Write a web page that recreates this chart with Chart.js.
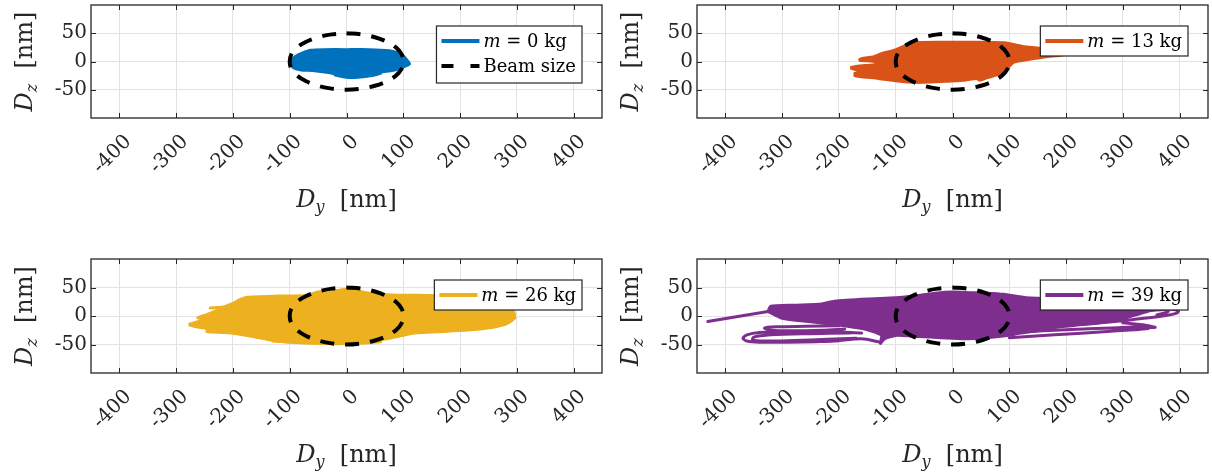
<!DOCTYPE html>
<html>
<head>
<meta charset="utf-8">
<script src="https://cdn.jsdelivr.net/npm/chart.js@4.4.0/dist/chart.umd.min.js"></script>
<style>
  html, body { margin: 0; padding: 0; background: #fff; }
  #wrap { position: relative; width: 1212px; height: 475px; }
  canvas { position: absolute; }
</style>
</head>
<body>
<div id="wrap">
  <canvas id="c0" width="606" height="237" style="left:0;top:0"></canvas>
  <canvas id="c1" width="606" height="237" style="left:606px;top:0"></canvas>
  <canvas id="c2" width="606" height="238" style="left:0;top:237px"></canvas>
  <canvas id="c3" width="606" height="238" style="left:606px;top:237px"></canvas>
</div>
<script>
const X_TICKS = [-400, -300, -200, -100, 0, 100, 200, 300, 400];
const Y_TICKS = [-50, 0, 50];
const MASSES = ['0', '13', '26', '39'];
const COLORS = ['#0072BD', '#D95319', '#EDB120', '#7E2F8E'];
const INK = '#262626';
const SERIF = '"DejaVu Serif"';

// beam size ellipse (nm)
const beamY = [0, 26, 50, 71, 87, 97, 100, 97, 87, 71, 50, 26, 0, -26, -50, -71, -87, -97, -100, -97, -87, -71, -50, -26, 0];
const beamZ = [50, 48, 43, 35, 25, 13, 0, -13, -25, -35, -43, -48, -50, -48, -43, -35, -25, -13, 0, 13, 25, 35, 43, 48, 50];

// m = 0 kg : dense core outline + a few loose strokes
const coreY0 = [-97, -90, -78, -63, -40, 0, 40, 75, 90, 100, 105, 111, 104, 95, 80, 55, 35, 10, -10, -35, -60, -80, -92, -97, -97];
const coreZ0 = [2, 9, 15, 20, 21, 21, 21, 19, 15, 10, 4, -4, -8, -12, -16, -19, -22, -24, -23, -19, -16, -15, -12, -6, 2];
const traceY0 = [-20, 0, 20, 45, 60];
const traceZ0 = [-24, -28, -28, -25, -21];

// m = 13 kg
const coreY1 = [-180, -165, -140, -125, -145, -163, -160, -140, -125, -102, -85, -67, -20, 30, 92, 127, 165, 196, 199, 190, 167, 130, 108, 98, 80, 60, 48, 42, 20, -10, -67, -100, -130, -160, -172, -168, -150, -168, -180];
const coreZ1 = [-11, -8, -6, -2, 1, 2, 5, 8, 14, 20, 27, 33, 34, 34, 33, 26, 22, 17, 14, 11, 9, 3, -1, -10, -23, -29, -33, -30, -33, -35, -37, -34, -30, -27, -25, -20, -17, -15, -11];
const traceY1 = [-172, -140, -100, null, -163, -130, -100];
const traceZ1 = [-21, -20, -22, null, 4, 5, 9];

// m = 26 kg
const coreY2 = [-278, -265, -248, -262, -245, -228, -215, -200, -187, -175, -120, -70, -50, -20, 0, 15, 40, 80, 140, 200, 240, 270, 288, 296, 293, 280, 255, 220, 170, 120, 80, 40, 0, -40, -98, -133, -170, -212, -235, -246, -245, -265, -278];
const coreZ2 = [-15, -11, -6, -3, 3, 10, 16, 22, 29, 33, 35, 36, 42, 44, 47, 45, 40, 37, 36, 35, 33, 28, 18, 3, -6, -14, -20, -24, -27, -30, -38, -44, -46, -47, -46, -42, -35, -29, -28, -27, -22, -19, -15];
const traceY2 = [-130, -60, 20, 60, null, 150, 230, 280, 297, null, -240, -200, -170];
const traceZ2 = [-44, -48, -48, -45, null, -24, -22, -14, -3, null, 14, 17, 19];

// m = 39 kg
const coreY3 = [-325, -320, -280, -230, -208, -150, -100, -60, -30, 0, 30, 60, 90, 130, 200, 280, 330, 360, 370, 350, 330, 300, 260, 220, 180, 150, 120, 100, 60, 20, -20, -60, -100, -120, -127, -125, -150, -200, -250, -300, -325];
const coreZ3 = [8, 17, 19, 21, 26, 30, 32, 36, 40, 42, 41, 40, 38, 32, 30, 28, 26, 22, 15, 10, 4, -4, -12, -16, -20, -26, -30, -34, -38, -40, -38, -36, -34, -40, -48, -34, -24, -16, -10, -4, 8];
const traceY3 = [-431, -325, null,
  -160, -220, -290, -340, -362, -369, -362, -340, -290, -240, -208, -160, -127, null,
  -180, -250, -320, -350, -352, -330, -280, -220, -170, null,
  -200, -260, -310, -331, -320, -280, -230, -190, null,
  130, 200, 260, 320, 370, 395, 398, 385, 350, 300, null,
  120, 200, 280, 330, 357, 340, 300, null,
  200, 280, 340, 375, 380, 360, null,
  100, 180, 260, 320, 345, 330];
const traceZ3 = [-9.5, 8, null,
  -30, -27, -27, -29, -33, -39, -44, -46, -46, -45, -44, -40, -46, null,
  -30, -31, -33, -37, -42, -44, -43, -41, -39, null,
  -17, -18, -19, -21, -25, -26, -25, -23, null,
  -20, -16, -12, -6, 0, 5, 9, 12, 10, 6, null,
  -28, -24, -21, -19, -20, -16, -12, null,
  20, 20, 18, 14, 8, 2, null,
  -38, -33, -28, -24, -22, -18];

const CORES = [[coreY0, coreZ0], [coreY1, coreZ1], [coreY2, coreZ2], [coreY3, coreZ3]];
const TRACES = [[traceY0, traceZ0], [traceY1, traceZ1], [traceY2, traceZ2], [traceY3, traceZ3]];

function toPoints(ys, zs) {
    return ys.map((y, i) => ({ x: y, y: y === null ? null : zs[i] }));
}

function drawMixed(ctx, parts, x, y) {
    // parts: [text, font, dy]
    let cx = x;
    parts.forEach(p => {
        ctx.font = p[1];
        ctx.fillText(p[0], cx, y + (p[2] || 0));
        cx += ctx.measureText(p[0]).width;
    });
}

function mixedWidth(ctx, parts) {
    let w = 0;
    parts.forEach(p => { ctx.font = p[1]; w += ctx.measureText(p[0]).width; });
    return w;
}

const framePlugin = {
    id: 'frame',
    afterDraw(chart) {
        const ctx = chart.ctx;
        const a = chart.chartArea;
        const xs = chart.scales.x, ys = chart.scales.y;
        const idx = chart.options.panelIndex;

        ctx.save();
        // inward ticks
        ctx.strokeStyle = INK;
        ctx.lineWidth = 1;
        ctx.beginPath();
        X_TICKS.forEach(v => {
            const px = Math.round(xs.getPixelForValue(v)) + 0.5;
            ctx.moveTo(px, a.bottom); ctx.lineTo(px, a.bottom - 5);
            ctx.moveTo(px, a.top); ctx.lineTo(px, a.top + 5);
        });
        Y_TICKS.forEach(v => {
            const py = Math.round(ys.getPixelForValue(v)) + 0.5;
            ctx.moveTo(a.left, py); ctx.lineTo(a.left + 5, py);
            ctx.moveTo(a.right, py); ctx.lineTo(a.right - 5, py);
        });
        ctx.stroke();

        // box
        ctx.lineWidth = 1.3;
        ctx.strokeRect(a.left, a.top, a.right - a.left, a.bottom - a.top);

        // axis titles
        ctx.fillStyle = INK;
        ctx.textBaseline = 'alphabetic';
        ctx.textAlign = 'left';
        const xt = [['D', 'italic 24px ' + SERIF], ['y', 'italic 16px ' + SERIF, 5], ['  [nm]', '24px ' + SERIF]];
        const wx = mixedWidth(ctx, xt);
        drawMixed(ctx, xt, (a.left + a.right) / 2 - wx / 2, a.bottom + 89);

        const yt = [['D', 'italic 24px ' + SERIF], ['z', 'italic 16px ' + SERIF, 5], ['  [nm]', '24px ' + SERIF]];
        const wy = mixedWidth(ctx, yt);
        ctx.save();
        ctx.translate(a.left - 59, (a.top + a.bottom) / 2);
        ctx.rotate(-Math.PI / 2);
        drawMixed(ctx, yt, -wy / 2, 0);
        ctx.restore();

        // legend
        const entries = [{ color: COLORS[idx], dash: [], label: [['m', 'italic 18px ' + SERIF], [' = ' + MASSES[idx] + ' kg', '18px ' + SERIF]] }];
        if (idx === 0) entries.push({ color: '#000', dash: [12, 17], label: [['Beam size', '18px ' + SERIF]] });
        let tw = 0;
        entries.forEach(e => { tw = Math.max(tw, mixedWidth(ctx, e.label)); });
        const bw = 47 + tw + 6;
        const bh = 30 + (entries.length - 1) * 27;
        const bx = a.right - 20 - bw;
        const by = a.top + 21;
        ctx.fillStyle = '#fff';
        ctx.fillRect(bx, by, bw, bh);
        ctx.strokeStyle = INK;
        ctx.lineWidth = 1.2;
        ctx.strokeRect(bx, by, bw, bh);
        entries.forEach((e, i) => {
            const cy = by + 15 + i * 25;
            ctx.strokeStyle = e.color;
            ctx.lineWidth = 4;
            ctx.setLineDash(e.dash);
            ctx.beginPath();
            ctx.moveTo(bx + 5, cy); ctx.lineTo(bx + 43, cy);
            ctx.stroke();
            ctx.setLineDash([]);
            ctx.fillStyle = '#000';
            ctx.textBaseline = 'middle';
            drawMixed(ctx, e.label, bx + 47, cy + 1);
        });
        ctx.restore();
    }
};

function drawPanel(canvasId, idx, topPad) {
    const canvas = document.getElementById(canvasId);
    const plotBottom = canvas.height - (topPad === 5 ? 119 : 102);
    const color = COLORS[idx];
    const tickFont = { family: 'DejaVu Serif', size: 20 };

    new Chart(canvas, {
        type: 'scatter',
        data: {
            datasets: [
                {
                    data: toPoints(beamY, beamZ), showLine: true, pointRadius: 0,
                    borderColor: '#000', borderWidth: 4, borderDash: [14, 11], tension: 0.35, fill: false
                },
                {
                    data: toPoints(TRACES[idx][0], TRACES[idx][1]), showLine: true, pointRadius: 0,
                    borderColor: color, borderWidth: 3, tension: 0.3, fill: false,
                    borderCapStyle: 'round', borderJoinStyle: 'round'
                },
                {
                    data: toPoints(CORES[idx][0], CORES[idx][1]), showLine: true, pointRadius: 0,
                    borderColor: color, backgroundColor: color, borderWidth: 3, tension: 0.2, fill: 'shape',
                    borderJoinStyle: 'round'
                }
            ]
        },
        options: {
            responsive: false, animation: false, events: [],
            panelIndex: idx,
            layout: { padding: { left: 0, right: 4, top: topPad, bottom: 0 } },
            plugins: { legend: { display: false }, tooltip: { enabled: false } },
            scales: {
                x: {
                    type: 'linear', min: -450, max: 450,
                    afterBuildTicks: s => { s.ticks = X_TICKS.map(v => ({ value: v })); },
                    afterFit: s => {
                        s.height = canvas.height - plotBottom;
                        s.paddingLeft = 0; s.paddingRight = 0;
                    },
                    grid: { color: '#e2e2e2', lineWidth: 1, drawTicks: false },
                    border: { display: false },
                    ticks: {
                        autoSkip: false, minRotation: 45, maxRotation: 45,
                        padding: 12, labelOffset: 9, color: INK, font: tickFont,
                        callback: v => String(v)
                    }
                },
                y: {
                    type: 'linear', min: -100, max: 100,
                    afterBuildTicks: s => { s.ticks = Y_TICKS.map(v => ({ value: v })); },
                    afterFit: s => {
                        s.width = 91;
                        s.paddingTop = 0; s.paddingBottom = 0;
                    },
                    grid: { color: '#e2e2e2', lineWidth: 1, drawTicks: false },
                    border: { display: false },
                    ticks: { padding: 4, color: INK, font: tickFont, callback: v => String(v) }
                }
            }
        },
        plugins: [framePlugin]
    });
}

drawPanel('c0', 0, 5);
drawPanel('c1', 1, 5);
drawPanel('c2', 2, 22);
drawPanel('c3', 3, 22);
</script>
</body>
</html>
